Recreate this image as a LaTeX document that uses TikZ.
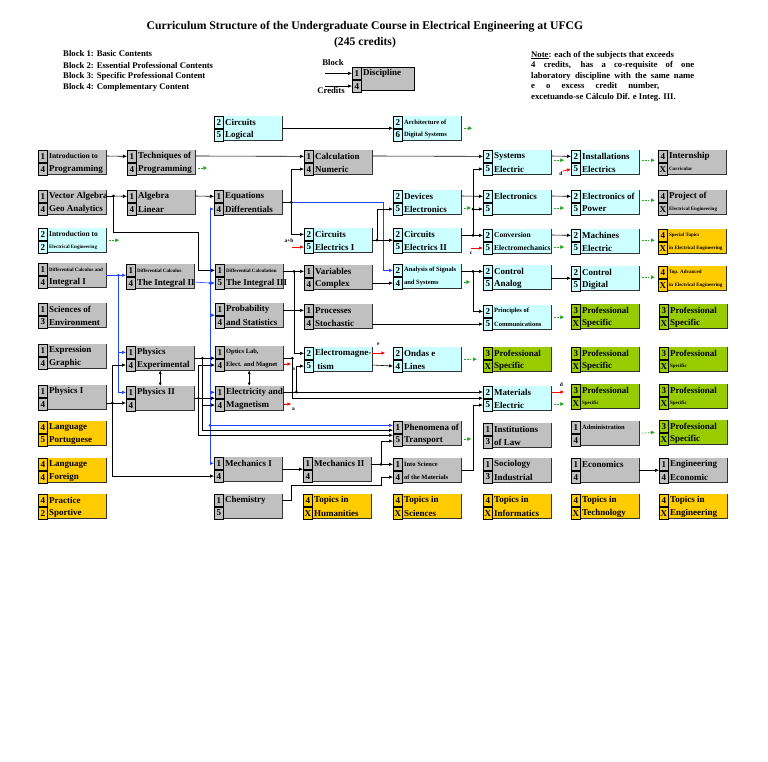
\documentclass[tikz,border=0pt]{standalone}
\usepackage{fontspec}
\setmainfont{Liberation Serif}
\usetikzlibrary{arrows.meta,calc}
\definecolor{cgray}{HTML}{C0C0C0}
\definecolor{ccyan}{HTML}{CCFFFF}
\definecolor{cyel}{HTML}{FFCC00}
\definecolor{cgrn}{HTML}{99CC00}
\definecolor{cblue}{HTML}{2244FF}
\definecolor{cgreen}{HTML}{22AA22}
\newcommand{\fsa}{\fontsize{7.5}{7.5}\selectfont}
\newcommand{\fsb}{\fontsize{6.5}{6.5}\selectfont}
\newcommand{\fsc}{\fontsize{5}{5}\selectfont}
\tikzset{
 boxbg/.style={draw=none, minimum width=68pt, minimum height=24pt, inner sep=0pt, anchor=north west},
 numcell/.style={draw=black, line width=0.7pt, minimum width=9pt, minimum height=12pt, inner sep=0pt, font=\fontsize{9}{9}\selectfont\bfseries, anchor=north west},
 txt/.style={inner sep=0pt, anchor=west, font=\fontsize{9}{9}\selectfont\bfseries},
 arr/.style={line width=0.6pt, -{Latex[length=4pt,width=3.5pt]}},
 barr/.style={arr, draw=cblue},
 ln/.style={line width=0.6pt},
 bln/.style={ln, draw=cblue},
 rarr/.style={line width=0.8pt, red, -{Latex[length=4pt,width=3.5pt]}},
 garr/.style={line width=0.6pt, cgreen, dash pattern=on 1.5pt off 1.2pt, -{Latex[length=4pt,width=4pt]}},
 darr/.style={line width=0.6pt, {Latex[length=3.5pt,width=3pt]}-{Latex[length=3.5pt,width=3pt]}},
 lbl/.style={inner sep=0pt, font=\fontsize{5.5}{5.5}\selectfont\bfseries},
 leg/.style={inner sep=0pt, anchor=west, font=\fontsize{8.7}{8.7}\selectfont\bfseries},
}
\newcommand{\crs}[8]{%
 \node[boxbg, fill=#4] (#1) at (#2,#3) {};
 \draw[line width=0.8pt, black!80] (#1.north east) -- (#1.south east) -- (#1.south west);
 \node[numcell, fill=#4] (#1a) at (#1.north west) {#5};
 \node[numcell, fill=#4] (#1b) at (#1a.south west) {#6};
 \node[txt] (#1t) at ($(#1a.east)+(1.2,0)$) {#7};
 \node[txt] (#1u) at ($(#1b.east)+(1.2,0)$) {#8};
 \coordinate (#1ru) at ($(#1.north east)+(0,6)$);
 \coordinate (#1rl) at ($(#1.north east)+(0,18)$);
}
\begin{document}
\begin{tikzpicture}[x=1pt,y=-1pt]
\fill[white] (0,0) rectangle (768,761);
\useasboundingbox (0,0) rectangle (768,761);
% title
\node[font=\fontsize{11.7}{13}\selectfont\bfseries, inner sep=0pt] (title) at (365,27) {Curriculum Structure of the Undergraduate Course in Electrical Engineering at UFCG};
\node[font=\fontsize{11.7}{13}\selectfont\bfseries, inner sep=0pt] (cred) at (365,43) {(245 credits)};
% block legend
\node[leg] (bl1) at (63,54) {Block 1: Basic Contents};
\node[leg] (bl2) at (63,65) {Block 2: Essential Professional Contents};
\node[leg] (bl3) at (63,76) {Block 3: Specific Professional Content};
\node[leg] (bl4) at (63,87) {Block 4: Complementary Content};
% legend box
\node[draw=black, line width=0.9pt, fill=cgray, minimum width=62pt, minimum height=23pt, inner sep=0pt, anchor=north west] (lg) at (352,67) {};
\node[numcell, fill=cgray] (lga) at (lg.north west) {1};
\node[numcell, fill=cgray] (lgb) at (lga.south west) {4};
\node[txt] (lgt) at ($(lga.east)+(1.2,0)$) {Discipline};
\node[leg, anchor=center] (lgblock) at (333,63) {Block};
\node[leg, anchor=center] (lgcred) at (331,91) {Credits};
\draw[arr] ($(lga.west)+(-27,0)$) -- (lga.west);
\draw[arr] ($(lgb.west)+(-27,0)$) -- (lgb.west);
% note
\node[leg] (n1) at (531,55) {\underline{Note}: each of the subjects that exceeds};
\node[leg] (n2) at (531,65.5) {\makebox[163pt][s]{4 credits, has a co-requisite of one}};
\node[leg] (n3) at (531,76) {\makebox[163pt][s]{laboratory discipline with the same name}};
\node[leg] (n4) at (531,86.5) {\makebox[128pt][s]{e o excess credit number,}};
\node[leg] (n5) at (531,97) {excetuando-se Cálculo Dif. e Integ. III.};
% courses
\crs{C0}{214}{116}{ccyan}{2}{5}{Circuits}{Logical}
\crs{E0}{393}{116}{ccyan}{2}{6}{\fsb Architecture of}{\fsb Digital Systems}
\crs{A1}{38}{150}{cgray}{1}{4}{\fsa Introduction to}{Programming}
\crs{B1}{127}{150}{cgray}{1}{4}{Techniques of}{Programming}
\crs{D1}{304}{150}{cgray}{1}{4}{Calculation}{Numeric}
\crs{F1}{483}{150}{ccyan}{2}{5}{Systems}{Electric}
\crs{G1}{571}{150}{ccyan}{2}{5}{Installations}{Electrics}
\crs{H1}{658}{150}{cgray}{4}{X}{Internship}{\fsc Curricular}
\crs{A2}{38}{190}{cgray}{1}{4}{Vector Algebra}{Geo Analytics}
\crs{B2}{127}{190}{cgray}{1}{4}{Algebra}{Linear}
\crs{C2}{214}{190}{cgray}{1}{4}{Equations}{Differentials}
\crs{E2}{393}{190}{ccyan}{2}{5}{Devices}{Electronics}
\crs{F2}{483}{190}{ccyan}{2}{5}{Electronics}{}
\crs{G2}{571}{190}{ccyan}{2}{5}{Electronics of}{Power}
\crs{H2}{658}{190}{cgray}{4}{X}{Project of}{\fsc Electrical Engineering}
\crs{A3}{38}{228}{ccyan}{2}{2}{\fsa Introduction to}{\fsc Electrical Engineering}
\crs{D3}{304}{228}{ccyan}{2}{5}{Circuits}{Electrics I}
\crs{E3}{393}{228}{ccyan}{2}{5}{Circuits}{Electrics II}
\crs{F3}{483}{229}{ccyan}{2}{5}{\fsa Conversion}{\fsa Electromechanics}
\crs{G3}{571}{229}{ccyan}{2}{5}{Machines}{Electric}
\crs{H3}{658}{229}{cyel}{4}{X}{\fsc Special Topics}{\fsc in Electrical Engineering}
\crs{A4}{38}{263}{cgray}{1}{4}{\fsc Differential Calculus and}{Integral I}
\crs{B4}{126}{264}{cgray}{1}{4}{\fsc Differential Calculus}{The Integral II}
\crs{C4}{215}{264}{cgray}{1}{5}{\fsc Differential Calculation}{The Integral III}
\crs{D4}{304}{265}{cgray}{1}{4}{Variables}{Complex}
\crs{E4}{393}{264}{ccyan}{2}{4}{\fsb Analysis of Signals}{\fsb and Systems}
\crs{F4}{483}{265}{ccyan}{2}{5}{Control}{Analog}
\crs{G4}{571}{266}{ccyan}{2}{5}{Control}{Digital}
\crs{H4}{658}{266}{cyel}{4}{X}{\fsc Top. Advanced}{\fsc in Electrical Engineering}
\crs{A5}{38}{303}{cgray}{1}{3}{Sciences of}{Environment}
\crs{C5}{215}{303}{cgray}{1}{4}{Probability}{and Statistics}
\crs{D5}{304}{304}{cgray}{1}{4}{Processes}{Stochastic}
\crs{F5}{483}{305}{ccyan}{2}{5}{\fsb Principles of}{\fsb Communications}
\crs{G5}{571}{304}{cgrn}{3}{X}{Professional}{Specific}
\crs{H5}{659}{304}{cgrn}{3}{X}{Professional}{Specific}
\crs{A6}{38}{344}{cgray}{1}{4}{Expression}{Graphic}
\crs{B6}{126}{346}{cgray}{1}{4}{Physics}{Experimental}
\crs{C6}{215}{346}{cgray}{1}{4}{\fsb Optics Lab,}{\fsb Elect. and Magnet}
\crs{D6}{304}{347}{ccyan}{2}{5}{Electromagne-}{\ tism}
\crs{E6}{393}{347}{ccyan}{2}{4}{Ondas e}{Lines}
\crs{F6}{483}{347}{cgrn}{3}{X}{Professional}{Specific}
\crs{G6}{571}{347}{cgrn}{3}{X}{Professional}{Specific}
\crs{H6}{659}{347}{cgrn}{3}{X}{Professional}{\fsc Specific}
\crs{A7}{38}{385}{cgray}{1}{4}{Physics I}{}
\crs{B7}{126}{386}{cgray}{1}{4}{Physics II}{}
\crs{C7}{215}{386}{cgray}{1}{4}{Electricity and}{Magnetism}
\crs{F7}{483}{386}{ccyan}{2}{5}{Materials}{Electric}
\crs{G7}{571}{384}{cgrn}{3}{X}{Professional}{\fsc Specific}
\crs{H7}{659}{384}{cgrn}{3}{X}{Professional}{\fsc Specific}
\crs{A8}{38}{421}{cyel}{4}{5}{Language}{Portuguese}
\crs{E8}{393}{421}{cgray}{1}{5}{Phenomena of}{Transport}
\crs{F8}{483}{423}{cgray}{1}{3}{Institutions}{of Law}
\crs{G8}{571}{421}{cgray}{1}{4}{\fsb Administration}{}
\crs{H8}{659}{420}{cgrn}{3}{X}{Professional}{Specific}
\crs{A9}{38}{458}{cyel}{4}{4}{Language}{Foreign}
\crs{C9}{214}{457}{cgray}{1}{4}{Mechanics I}{}
\crs{D9}{303}{457}{cgray}{1}{4}{Mechanics II}{}
\crs{E9}{393}{458}{cgray}{1}{4}{\fsb Into Science}{\fsb of the Materials}
\crs{F9}{483}{458}{cgray}{1}{3}{Sociology}{Industrial}
\crs{G9}{571}{458}{cgray}{1}{4}{Economics}{}
\crs{H9}{659}{458}{cgray}{1}{4}{Engineering}{Economic}
\crs{A10}{38}{494}{cyel}{4}{2}{Practice}{Sportive}
\crs{C10}{214}{494}{cgray}{1}{5}{Chemistry}{}
\crs{D10}{303}{494}{cyel}{4}{X}{Topics in}{Humanities}
\crs{E10}{393}{494}{cyel}{4}{X}{Topics in}{Sciences}
\crs{F10}{483}{494}{cyel}{4}{X}{Topics in}{Informatics}
\crs{G10}{571}{494}{cyel}{4}{X}{Topics in}{Technology}
\crs{H10}{659}{494}{cyel}{4}{X}{Topics in}{Engineering}
% junction coordinates
\coordinate (j1) at ($(A2ru)+(7,0)$);
\coordinate (j2) at ($(C2.east)+(9,0)$);
\coordinate (j3) at ($(E3.west)+(-16,0)$);
\coordinate (j4) at ($(F3a.west)+(-10,0)$);
\coordinate (j5) at ($(F4a.west)+(-10,0)$);
\coordinate (j6) at ($(D4a.west)+(-10,0)$);
\coordinate (j7) at ($(A4.east)+(12,0)$);
\coordinate (j8) at ($(C4b.west)+(-5,0)$);
\coordinate (j9) at ($(A7rl)+(6,0)$);
\coordinate (j10) at ($(B6.east)+(8,0)$);
\coordinate (j11) at ($(B7.east)+(4,0)$);
\coordinate (j12) at ($(C6.east)+(9,0)$);
\coordinate (j13) at ($(C7ru)+(13,0)$);
\coordinate (j15) at ($(E9a.west)+(-12,0)$);
% black connectors
\draw[arr] (C0.east) -- (E0.west);
\draw[arr] (A1ru) -- (B1a.west);
\draw[arr] (B1ru) -- (D1a.west);
\draw[arr] (D1ru) -- (F1a.west);
\draw[arr] (F1ru) -- (G1a.west);
\draw[ln] (A2ru) -- (j1);
\draw[arr] (j1) -- (B2a.west);
\draw[arr] (j1) -- ++(0,36) -| ($(C4a.west)+(-17,0)$) -- (C4a.west);
\draw[arr] (B2ru) -- (C2a.west);
\draw[ln] (C2.east) -- (j2);
\draw[arr] (j2) |- (D1b.west);
\draw[arr] (j2) |- (D3a.west);
\draw[barr] (j2) -- ++(92,0) |- (E4a.west);
\draw[arr] (D3.east) -- (E3.west);
\draw[arr] (j3) |- (E2b.west);
\draw[arr] (E2ru) -- (F2a.west);
\draw[ln] (E3.east |- j4) -- (j4);
\draw[arr] (j4) -- (F3a.west);
\draw[arr] (j4) |- (F1b.west);
\draw[arr] (j4 |- F2b.west) -- (F2b.west);
\draw[ln] (E4.east |- j5) -- (j5);
\draw[arr] (j5) -- (F4a.west);
\draw[arr] (j5) |- (F5a.west);
\draw[arr] (D4.east |- E4b.west) -- (E4b.west);
\draw[arr] (D5.east |- F5b.west) -- (F5b.west);
\draw[arr] (F2ru) -- (G2a.west);
\draw[arr] (F3ru) -- (G3a.west);
\draw[arr] (F4.east |- G4.west) -- (G4.west);
\draw[ln] (C4.east |- j6) -- (j6);
\draw[arr] (j6) -- (D4a.west);
\draw[arr] (j6) |- (D6a.west);
\draw[arr] (C5.east |- D5a.west) -- (D5a.west);
% blue connectors
\draw[bln] (A4.east) -- (j7);
\draw[barr] (j7) -- (j7 -| B4.west);
\draw[barr] (j7) |- (B6a.west);
\draw[barr] (j7) |- (B7a.west);
\draw[bln] (B4rl) -- (j8);
\draw[barr] (j8) -- (C4b.west);
\draw[barr] (j8) |- (C2b.west);
\draw[barr] (j8) |- (C5.west);
\draw[barr] (j8) |- (C7a.west);
\draw[barr] (j8) |- (C9a.west);
\draw[barr] ($(j8 |- E8a.west)+(0,-2)$) -- ($(E8a.west)+(0,-2)$);
% physics
\draw[ln] (A7rl) -- (j9);
\draw[arr] (j9) -- (j9 -| B7.west);
\draw[arr] (j9) |- (B6b.west);
\draw[arr] (j9) |- (C9b.west);
\draw[ln] (B6.east) -- (j10);
\draw[arr] (j10) -- (j10 -| C6.west);
\draw[arr] (j10) |- (C7b.west);
\draw[arr] (j10) |- ($(E8.west)+(0,-3)$);
\draw[ln] (B7.east) -- (j11);
\draw[arr] (j11) -- (j11 -| C7.west);
\draw[arr] (j11) |- (C6b.west);
\draw[arr] (j11) |- ($(E8.west)+(0,2)$);
\draw[darr] (B6.south) -- (B7.north);
\draw[darr] (C6.south) -- (C7.north);
\draw[ln] (C6.east) -- (j12);
\draw[arr] (j12) |- (F7.west);
\draw[ln] (C7ru) -- (j13);
\draw[arr] (j13) -- (j13 -| F7.west);
\draw[arr] (j13) |- (D6b.west);
\draw[arr] (D6rl) -- (E6b.west);
\draw[arr] (E9.east) -- ++(12,0) |- (F7b.west);
\draw[arr] (C9.east) -- (D9.west);
\draw[ln] (D9.east |- j15) -- (j15);
\draw[arr] (j15) -- (E9a.west);
\draw[arr] (j15) |- ($(E8b.west)+(0,1)$);
\draw[arr] (C10ru) -- ++(9,0) |- ($(j15)+(0,21)$) |- (E9b.west);
\draw[arr] (G9.east) -- (H9.west);
% dots
\foreach \p in {j1,j2,j3,j4,j5,j6,j9,j10,j11,j12,j13,j15} \fill (\p) circle (1.5pt);
\fill (j4 |- F2b.west) circle (1.5pt);
\fill[cblue] (j7) circle (1.5pt);
\fill[cblue] (j8) circle (1.5pt);
\fill[cblue] ($(j8 |- E8a.west)+(0,-2)$) circle (1.5pt);
% green dashed arrows
\draw[garr] ($(B1rl)+(3,0)$) -- ++(9,0);
\draw[garr] ($(E0.east)+(3,0)$) -- ++(8,0);
\draw[garr] ($(F1.east)+(3,-2)$) -- ++(10,0);
\draw[garr] ($(G1.east)+(3,-2)$) -- ($(H1.west)+(-3,-2)$);
\draw[garr] ($(E2rl)+(3,0)$) -- ++(7,0);
\draw[garr] ($(F2rl)+(3,0)$) -- ++(10,0);
\draw[garr] ($(G2.east)+(3,-2)$) -- ($(H2.west)+(-3,-2)$);
\draw[garr] ($(A3.east)+(3,0)$) -- ++(10,0);
\draw[garr] ($(F3rl)+(3,0)$) -- ++(10,0);
\draw[garr] ($(G3.east)+(3,-1)$) -- ($(H3.west)+(-3,-1)$);
\draw[garr] ($(E4rl)+(3,0)$) -- ++(6,0);
\draw[garr] ($(G4.east)+(3,-1)$) -- ($(H4.west)+(-3,-1)$);
\draw[garr] ($(F5.east)+(3,0)$) -- ++(10,0);
\draw[garr] ($(E6.east)+(3,0)$) -- ($(F6.west)+(-6,0)$);
\draw[garr] ($(F7rl)+(3,0)$) -- ++(10,0);
\draw[garr] ($(E8rl)+(3,0)$) -- ++(7,0);
\draw[garr] ($(G8.east)+(3,0)$) -- ($(H8.west)+(-4,0)$);
% red arrows
\draw[rarr] ($(D3b.west)+(-12,0)$) -- (D3b.west);
\node[lbl] (lab1) at ($(D3b.west)+(-15,-6)$) {a+b};
\draw[rarr] ($(F3b.west)+(-12,0)$) -- (F3b.west);
\node[lbl] (lab2) at ($(F3b.west)+(-12,5)$) {c};
\draw[rarr] ($(G1b.west)+(-8,2)$) -- (G1b.west);
\node[lbl] (lab3) at ($(G1b.west)+(-10,5)$) {d};
\draw[rarr] (F7ru) -- ++(13,0);
\node[lbl] (lab4) at ($(F7ru)+(10,-7)$) {d};
\draw[rarr] (D6ru) -- ++(13,0);
\node[lbl] (lab5) at ($(D6ru)+(6,-9)$) {e};
\draw[rarr] (C6rl) -- ++(8,0);
\node[lbl] (lab6) at ($(C6rl)+(10,5)$) {a};
\draw[rarr] (C7rl) -- ++(8,0);
\node[lbl] (lab7) at ($(C7rl)+(10,5)$) {a};
\end{tikzpicture}
\end{document}
